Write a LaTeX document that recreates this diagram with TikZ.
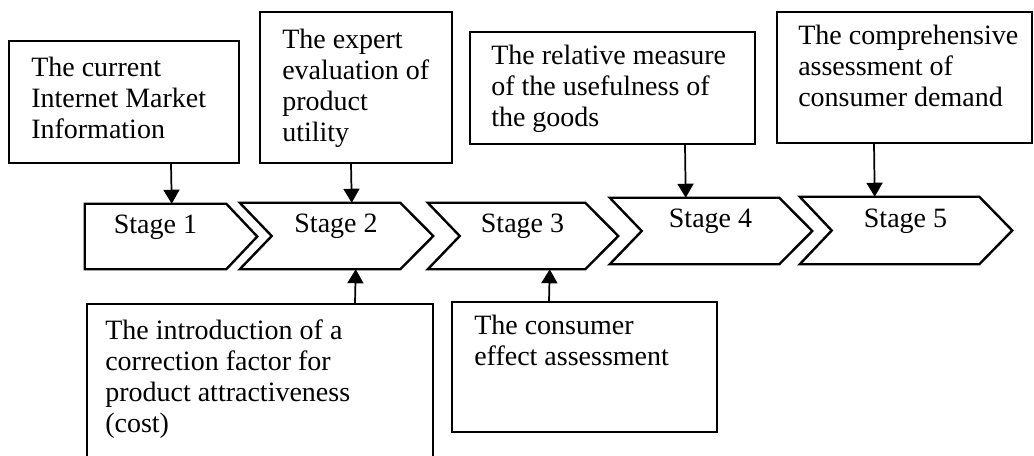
\documentclass[tikz,border=0pt]{standalone}
\usepackage{fontspec}
\setmainfont{Liberation Serif}
\usetikzlibrary{arrows.meta,calc,fit}
\begin{document}
\begin{tikzpicture}[x=0.75pt,y=-0.75pt,
  box/.style={draw, line width=1.5pt, inner sep=0pt},
  txt/.style={font=\fontsize{21}{23.25}\selectfont, align=left, inner sep=0pt, anchor=north west},
  stagebody/.style={inner sep=0pt, font=\fontsize{21}{23.25}\selectfont},
  stg/.style={draw, line width=1.8pt, line join=miter},
  arr/.style={line width=1.3pt, -{Triangle[length=10.5pt,width=12pt]}}]
\useasboundingbox (0,0) rectangle (1034,455);
\clip (0,0) rectangle (1034,455);
% top boxes
\node[box, fit={(9,41)(239,163)}] (b1) {};
\node[box, fit={(260,12)(452,163)}] (b2) {};
\node[box, fit={(470,32)(755,144)}] (b3) {};
\node[box, fit={(777,12)(1032,143)}] (b4) {};
% bottom boxes
\node[box, fit={(87,304)(433,490)}] (b5) {};
\node[box, fit={(452,302)(717,432)}] (b6) {};
% box texts
\node[txt] (t1) at ($(b1.north west)+(23,17)$) {The current\\Internet Market\\Information};
\node[txt] (t2) at ($(b2.north west)+(23,18)$) {The expert\\evaluation of\\product\\utility};
\node[txt] (t3) at ($(b3.north west)+(22,14)$) {The relative measure\\of the usefulness of\\the goods};
\node[txt] (t4) at ($(b4.north west)+(22,14)$) {The comprehensive\\assessment of\\consumer demand};
\node[txt] (t5) at ($(b5.north west)+(19,17)$) {The introduction of a\\correction factor for\\product attractiveness\\(cost)};
\node[txt] (t6) at ($(b6.north west)+(23,14)$) {The consumer\\effect assessment};
% stages
\node[stagebody, fit={(85,204)(226,269)}] (s1) {Stage 1};
\node[stagebody, fit={(272,203)(400,269)}] (s2) {Stage 2};
\node[stagebody, fit={(460,203)(585,269)}] (s3) {Stage 3};
\node[stagebody, fit={(642,198)(779,264)}] (s4) {Stage 4};
\node[stagebody, fit={(832,197)(979,264)}] (s5) {Stage 5};
\draw[stg] (s1.north west) -- (s1.north east) -- ($(s1.east)+(31,0)$) -- (s1.south east) -- (s1.south west) -- cycle;
\foreach \s in {s2,s3,s4,s5}{
  \draw[stg] ($(\s.north west)+(-32,0)$) -- (\s.north east) -- ($(\s.east)+(33,0)$) -- (\s.south east) -- ($(\s.south west)+(-32,0)$) -- (\s.west) -- cycle;
}
% connectors
\draw[arr] ($(b1.south west)+(163,0)$) -- ($(s1.north west)+(87,0)$);
\draw[arr] ($(b2.south west)+(92,0)$) -- ($(s2.north west)+(80,0)$);
\draw[arr] ($(b3.south west)+(216,0)$) -- ($(s4.north west)+(44,0)$);
\draw[arr] ($(b4.south west)+(98,0)$) -- ($(s5.north west)+(43,0)$);
\draw[arr] ($(b5.north west)+(269,0)$) -- ($(s2.south west)+(84,0)$);
\draw[arr] ($(b6.north west)+(98,0)$) -- ($(s3.south west)+(90,0)$);
\end{tikzpicture}
\end{document}
